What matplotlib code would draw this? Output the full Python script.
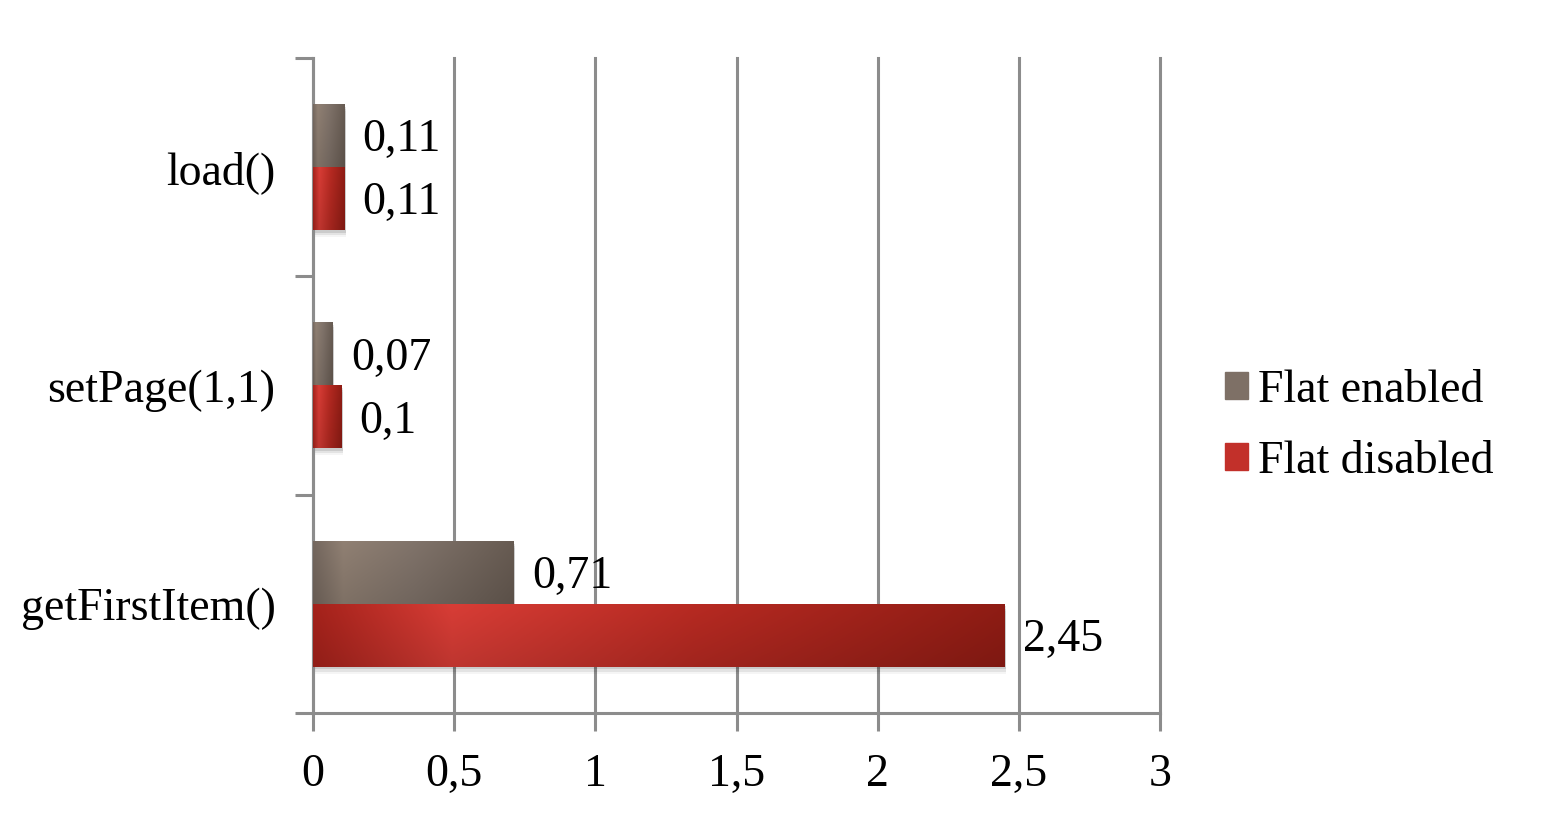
import numpy as np
import matplotlib
matplotlib.use('Agg')
import matplotlib.pyplot as plt
from matplotlib.colors import LinearSegmentedColormap
from matplotlib.patches import Rectangle

categories = ['load()', 'setPage(1,1)', 'getFirstItem()']
flat_enabled = [0.11, 0.07, 0.71]
flat_disabled = [0.11, 0.1, 2.45]
series_names = ['Flat enabled', 'Flat disabled']
x_ticks = [0, 0.5, 1, 1.5, 2, 2.5, 3]

plt.rcParams['font.family'] = ['Liberation Serif', 'DejaVu Serif']
FS = 33
GRID = '#8c8c8c'

# horizontal shading of the bars (left edge, highlight, right edge)
gray_cmap = LinearSegmentedColormap.from_list(
    'g', [(0, '#74675e'), (0.15, '#908073'), (0.5, '#80736a'), (1, '#675b52')])
red_cmap = LinearSegmentedColormap.from_list(
    'r', [(0, '#a5221b'), (0.2, '#d83d36'), (0.55, '#b72a22'), (1, '#8f1c14')])

fig = plt.figure(figsize=(15.42, 8.14), dpi=100)
ax = fig.add_axes([313 / 1542, 1 - 713 / 814, 847 / 1542, 655 / 814])

bar_h = 0.288
centers = np.arange(len(categories)) + 0.5


def gradient_bar(ax, x, y0, h, cmap):
    # shadow below the bar
    for i, a in enumerate([0.10, 0.07, 0.04]):
        off = 0.012 + i * 0.01
        ax.add_patch(Rectangle((0.006, y0 + off), x, h, color='black', alpha=a,
                               lw=0, zorder=2))
    xs = np.linspace(0, 1, 256)
    ys = np.linspace(0, 1, 32)
    rgb = cmap(xs)[:, :3]
    shade = 1.0 - 0.12 * ys[:, None, None]
    img = rgb[None, :, :] * shade
    ax.imshow(img, extent=[0, x, y0 + h, y0], aspect='auto', zorder=3,
              interpolation='bilinear')


for c, e, d in zip(centers, flat_enabled, flat_disabled):
    gradient_bar(ax, e, c - bar_h, bar_h, gray_cmap)
    gradient_bar(ax, d, c, bar_h, red_cmap)
    ax.text(e + 0.065, c - bar_h / 2 + 0.02, f'{e:g}'.replace('.', ','),
            fontsize=FS, va='center', ha='left', zorder=5)
    ax.text(d + 0.065, c + bar_h / 2 + 0.02, f'{d:g}'.replace('.', ','),
            fontsize=FS, va='center', ha='left', zorder=5)

ax.set_xlim(0, 3)
ax.set_ylim(3, 0)

ax.set_xticks(x_ticks)
ax.set_xticklabels([f'{t:g}'.replace('.', ',') for t in x_ticks], fontsize=FS)
ax.set_yticks([0, 1, 2, 3])
ax.set_yticklabels([])
ax.set_yticks(centers, minor=True)
ax.set_yticklabels(categories, minor=True, fontsize=FS)
ax.tick_params(axis='y', which='minor', length=0, pad=27)
ax.tick_params(axis='y', which='major', length=13, width=2.2, color=GRID)
ax.tick_params(axis='x', length=13, width=2.2, color=GRID, pad=16)

ax.grid(axis='x', color=GRID, lw=2.2, zorder=0)
for gl in ax.xaxis.get_gridlines():
    gl.set_clip_on(False)
ax.set_axisbelow(True)
for s in ['top', 'right']:
    ax.spines[s].set_visible(False)
for s in ['left', 'bottom']:
    ax.spines[s].set_color(GRID)
    ax.spines[s].set_linewidth(2.2)

handles = [Rectangle((0, 0), 1, 1, color='#7e7066'),
           Rectangle((0, 0), 1, 1, color='#c2302a')]
fig.legend(handles, series_names, loc='center left', frameon=False,
           bbox_to_anchor=(1207 / 1542, 1 - 426 / 814), fontsize=FS,
           handlelength=0.5, handleheight=0.5, handletextpad=0.22,
           labelspacing=0.62, borderaxespad=0)

fig.savefig('out.png', dpi=100)
